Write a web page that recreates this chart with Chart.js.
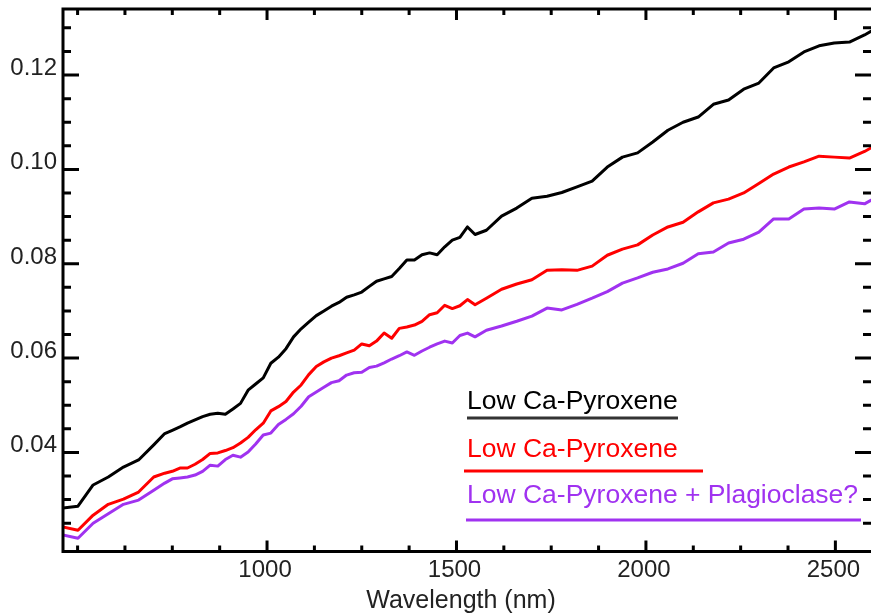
<!DOCTYPE html>
<html lang="en">
<head>
  <meta charset="UTF-8">
  <title>Low Ca-Pyroxene spectra</title>
  <script src="https://cdn.jsdelivr.net/npm/chart.js"></script>
  <style>
    html, body { margin: 0; padding: 0; background: #fff; }
    #wrap { width: 871px; height: 616px; }
  </style>
</head>
<body>
  <div id="wrap"><canvas id="spectra" width="871" height="616"></canvas></div>
  <script>
    // wavelengths (nm) of the spectral channels
    const wavelengths = [461, 501, 541, 581, 621, 661, 701, 730, 750, 770, 790, 810, 830, 850, 870, 890, 910, 930, 950, 970,
      990, 1010, 1030, 1050, 1070, 1090, 1110, 1130, 1150, 1170, 1190, 1210, 1230, 1250, 1270, 1289, 1309, 1329, 1349, 1369,
      1389, 1409, 1429, 1449, 1469, 1489, 1509, 1529, 1549, 1579, 1619, 1659, 1699, 1739, 1778, 1818, 1858, 1898, 1938, 1978,
      2018, 2058, 2098, 2138, 2178, 2218, 2258, 2298, 2337, 2377, 2417, 2457, 2497, 2537, 2577, 2617];

    const blackSpectrum = [0.0282, 0.0286, 0.0331, 0.0348, 0.0369, 0.0384, 0.0416, 0.0440, 0.0447, 0.0454, 0.0462, 0.0469, 0.0476, 0.0481, 0.0483, 0.0481, 0.0492, 0.0504, 0.0532, 0.0545,
      0.0558, 0.0589, 0.0602, 0.0620, 0.0645, 0.0662, 0.0676, 0.0690, 0.0700, 0.0710, 0.0718, 0.0729, 0.0734, 0.0740, 0.0752, 0.0763, 0.0768, 0.0773, 0.0790, 0.0808,
      0.0808, 0.0819, 0.0823, 0.0819, 0.0836, 0.0850, 0.0856, 0.0878, 0.0862, 0.0871, 0.0901, 0.0918, 0.0939, 0.0943, 0.0951, 0.0963, 0.0975, 0.1005, 0.1026, 0.1035,
      0.1058, 0.1083, 0.1100, 0.1111, 0.1138, 0.1147, 0.1170, 0.1183, 0.1215, 0.1228, 0.1249, 0.1262, 0.1268, 0.1270, 0.1285, 0.1303];

    const redSpectrum = [0.0242, 0.0235, 0.0267, 0.0290, 0.0301, 0.0316, 0.0348, 0.0356, 0.0360, 0.0367, 0.0367, 0.0375, 0.0385, 0.0398, 0.0399, 0.0404, 0.0410, 0.0420, 0.0432, 0.0448,
      0.0462, 0.0488, 0.0497, 0.0508, 0.0528, 0.0543, 0.0565, 0.0582, 0.0592, 0.0600, 0.0605, 0.0611, 0.0617, 0.0630, 0.0626, 0.0636, 0.0653, 0.0642, 0.0663, 0.0666,
      0.0670, 0.0678, 0.0692, 0.0696, 0.0712, 0.0705, 0.0711, 0.0724, 0.0713, 0.0727, 0.0746, 0.0757, 0.0766, 0.0786, 0.0787, 0.0786, 0.0795, 0.0818, 0.0831, 0.0840,
      0.0861, 0.0878, 0.0888, 0.0910, 0.0929, 0.0937, 0.0950, 0.0970, 0.0990, 0.1005, 0.1016, 0.1028, 0.1026, 0.1024, 0.1038, 0.1056];

    const purpleSpectrum = [0.0225, 0.0218, 0.0250, 0.0270, 0.0290, 0.0299, 0.0320, 0.0335, 0.0344, 0.0346, 0.0348, 0.0352, 0.0360, 0.0373, 0.0371, 0.0385, 0.0394, 0.0390, 0.0401, 0.0418,
      0.0437, 0.0441, 0.0459, 0.0470, 0.0482, 0.0498, 0.0518, 0.0528, 0.0538, 0.0548, 0.0552, 0.0564, 0.0569, 0.0570, 0.0580, 0.0583, 0.0590, 0.0598, 0.0605, 0.0613,
      0.0606, 0.0615, 0.0623, 0.0630, 0.0636, 0.0632, 0.0648, 0.0653, 0.0645, 0.0659, 0.0668, 0.0678, 0.0689, 0.0706, 0.0702, 0.0714, 0.0727, 0.0741, 0.0759, 0.0770,
      0.0782, 0.0789, 0.0801, 0.0821, 0.0825, 0.0844, 0.0852, 0.0867, 0.0895, 0.0895, 0.0916, 0.0918, 0.0916, 0.0931, 0.0927, 0.0945];

    const seriesLabels = ['Low Ca-Pyroxene', 'Low Ca-Pyroxene', 'Low Ca-Pyroxene + Plagioclase?'];
    const seriesColors = ['#000000', '#ff0000', '#a032f0'];
    const xLabelTicks = [1000, 1500, 2000, 2500];
    const yLabelTicks = [0.04, 0.06, 0.08, 0.10, 0.12];
    const xMinorStep = 125;
    const yMinorStep = 0.005;
    const yFirstTick = 0.025;
    const xTitle = 'Wavelength (nm)';

    const FONT = "'Liberation Sans', Arial, Helvetica, sans-serif";
    const TEXT = '#222';

    function toPoints(ys) {
      return wavelengths.map((x, i) => ({ x: x, y: ys[i] }));
    }

    // 内向きの目盛り・枠線・目盛りラベル
    const axesPlugin = {
      id: 'axes',
      afterDatasetsDraw(chart) {
        const { ctx, chartArea: a, scales: { x, y } } = chart;
        ctx.save();
        ctx.strokeStyle = '#000';
        ctx.lineWidth = 3;
        ctx.beginPath();
        for (let v = Math.ceil(x.min / xMinorStep) * xMinorStep; v <= x.max; v += xMinorStep) {
          const px = x.getPixelForValue(v);
          const len = xLabelTicks.includes(v) ? 11 : 6;
          ctx.moveTo(px, a.bottom); ctx.lineTo(px, a.bottom - len);
          ctx.moveTo(px, a.top); ctx.lineTo(px, a.top + len);
        }
        const n0 = Math.round(yFirstTick / yMinorStep), n1 = Math.floor(y.max / yMinorStep);
        for (let n = n0; n <= n1; n++) {
          const py = y.getPixelForValue(n * yMinorStep);
          const len = n % 4 === 0 ? 16 : 8;
          ctx.moveTo(a.left, py); ctx.lineTo(a.left + len, py);
          ctx.moveTo(a.right, py); ctx.lineTo(a.right - len, py);
        }
        ctx.stroke();
        ctx.beginPath();
        ctx.moveTo(a.left, a.bottom); ctx.lineTo(a.left, a.top - 1.5);
        ctx.moveTo(a.left - 1.5, a.top); ctx.lineTo(a.right, a.top);
        ctx.moveTo(a.left - 1.5, a.bottom); ctx.lineTo(a.right, a.bottom);
        ctx.stroke();

        ctx.fillStyle = TEXT;
        ctx.font = '24px ' + FONT;
        ctx.textBaseline = 'alphabetic';
        ctx.textAlign = 'right';
        yLabelTicks.forEach(v => {
          ctx.fillText(v.toFixed(2), a.left - 6, y.getPixelForValue(v));
        });
        ctx.textAlign = 'center';
        xLabelTicks.forEach(v => {
          ctx.fillText(String(v), x.getPixelForValue(v) - 2, a.bottom + 25);
        });
        ctx.font = '25px ' + FONT;
        ctx.fillText(xTitle, 461, a.bottom + 56);
        ctx.restore();
      }
    };

    // 下線付きの凡例
    const legendPlugin = {
      id: 'underlinedLegend',
      afterDraw(chart) {
        const ctx = chart.ctx;
        const rows = [
          { base: 409, lineY: 418, x0: 467, x1: 678, line: '#333' },
          { base: 457, lineY: 471, x0: 464, x1: 703 },
          { base: 503, lineY: 520, x0: 466, x1: 861 }
        ];
        ctx.save();
        ctx.font = '26.5px ' + FONT;
        ctx.textBaseline = 'alphabetic';
        ctx.textAlign = 'left';
        rows.forEach((r, i) => {
          ctx.fillStyle = seriesColors[i];
          ctx.fillText(seriesLabels[i], 467, r.base);
          ctx.strokeStyle = r.line || seriesColors[i];
          ctx.lineWidth = 3;
          ctx.beginPath();
          ctx.moveTo(r.x0, r.lineY); ctx.lineTo(r.x1, r.lineY);
          ctx.stroke();
        });
        ctx.restore();
      }
    };

    new Chart(document.getElementById('spectra'), {
      type: 'line',
      data: {
        datasets: [
          { label: seriesLabels[0], data: toPoints(blackSpectrum), borderColor: seriesColors[0] },
          { label: seriesLabels[1], data: toPoints(redSpectrum), borderColor: seriesColors[1] },
          { label: seriesLabels[2], data: toPoints(purpleSpectrum), borderColor: seriesColors[2] }
        ]
      },
      options: {
        responsive: false,
        animation: false,
        devicePixelRatio: 1,
        layout: { padding: { top: 9, right: 0, left: 0, bottom: 0 } },
        elements: {
          line: { borderWidth: 3, tension: 0, borderJoinStyle: 'round' },
          point: { radius: 0 }
        },
        plugins: { legend: { display: false }, tooltip: { enabled: false } },
        scales: {
          x: {
            type: 'linear',
            min: 461.5,
            max: 2594,
            grid: { display: false, drawTicks: false },
            border: { display: false },
            ticks: { display: false },
            afterFit(s) { s.height = 64.5; }
          },
          y: {
            min: 0.019,
            max: 0.134,
            grid: { display: false, drawTicks: false },
            border: { display: false },
            ticks: { display: false },
            afterFit(s) { s.width = 63; }
          }
        }
      },
      plugins: [axesPlugin, legendPlugin]
    });
  </script>
</body>
</html>
